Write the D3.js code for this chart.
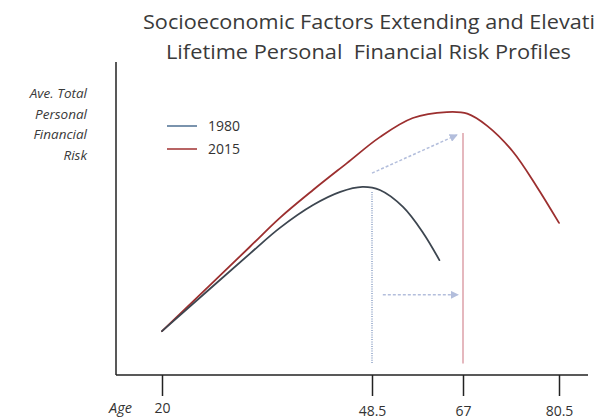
<!DOCTYPE html>
<html>
<head>
<meta charset="utf-8">
<script src="https://cdn.jsdelivr.net/npm/d3@7/dist/d3.min.js"></script>
<style>
  html, body { margin: 0; padding: 0; background: #fff; }
  svg { display: block; }
  text { font-family: "Open Sans", "Liberation Sans", sans-serif; }
</style>
</head>
<body>
<svg id="chart" width="595" height="420"></svg>
<script>
// Age breakpoints shown on the horizontal axis
const ageTicks = [20, 48.5, 67, 80.5];
const ageTickLabels = ["20", "48.5", "67", "80.5"];

// Average total personal financial risk by age (relative units)
const ages1980 = [20, 31.9, 36.0, 40.5, 44.2, 47.2, 50.1, 54.8, 58.9, 62.2];
const risk1980 = [14, 38.7, 47.0, 54.3, 58.5, 60.1, 59.1, 53.7, 45.4, 36.7];
const ages2015 = [20, 31.9, 36.0, 40.5, 45.1, 50.1, 56.8, 63.7, 67.6, 70.4, 74.0, 77.4, 80.5];
const risk2015 = [14, 40.9, 50.2, 59.1, 67.7, 76.0, 82.1, 84.0, 83.5, 79.6, 71.4, 60.1, 48.6];

const seriesNames = ["1980", "2015"];

// Peak-age markers: age, top of marker, bottom of marker
const markerAges = [48.5, 67];
const markerTops = [58.5, 77.3];
const markerBottom = 3.7;

// Shift arrows between the two profiles
const arrowFromAges = [48.5, 50.7];
const arrowFromRisk = [64.5, 25.6];
const arrowToAges = [65.8, 66.0];
const arrowToRisk = [76.7, 25.6];

const titleLines = [
  "Socioeconomic Factors Extending and Elevati",
  "Lifetime Personal  Financial Risk Profiles"
];
const yLabelLines = ["Ave. Total", "Personal", "Financial", "Risk"];

const svg = d3.select("#chart");

const frame = { left: 116, right: 588, top: 62, bottom: 375 };

// Piecewise scale: the age axis is not evenly spaced
const x = d3.scaleLinear()
  .domain(ageTicks)
  .range([162, 372, 463, 559]);

const y = d3.scaleLinear()
  .domain([0, 100])
  .range([frame.bottom, frame.top]);

// Title
const titleG = svg.append("g").attr("fill", "#3a3a3a");
titleG.append("text")
  .attr("x", 143).attr("y", 29)
  .attr("font-size", 19.5)
  .attr("textLength", 452).attr("lengthAdjust", "spacingAndGlyphs")
  .text(titleLines[0]);
titleG.append("text")
  .attr("x", 166).attr("y", 59)
  .attr("font-size", 19.5)
  .attr("textLength", 405).attr("lengthAdjust", "spacingAndGlyphs")
  .style("white-space", "pre")
  .text(titleLines[1]);

// Y axis label (right aligned, italic)
svg.append("g")
  .selectAll("text")
  .data(yLabelLines)
  .join("text")
  .attr("x", 87)
  .attr("y", (d, i) => 98 + i * 20.5)
  .attr("text-anchor", "end")
  .attr("font-size", 13.5)
  .attr("font-style", "italic")
  .attr("fill", "#3a3a3a")
  .text(d => d);

// Frame axes
svg.append("line")
  .attr("x1", frame.left).attr("x2", frame.left)
  .attr("y1", frame.top).attr("y2", frame.bottom)
  .attr("stroke", "#222").attr("stroke-width", 1.5);
svg.append("line")
  .attr("x1", frame.left).attr("x2", frame.right)
  .attr("y1", frame.bottom).attr("y2", frame.bottom)
  .attr("stroke", "#222").attr("stroke-width", 1.5);

// Bottom axis ticks and labels
const xAxis = d3.axisBottom(x)
  .tickValues(ageTicks)
  .tickSize(21)
  .tickFormat((d, i) => ageTickLabels[i]);

const axisG = svg.append("g")
  .attr("transform", `translate(0,${frame.bottom})`)
  .call(xAxis);
axisG.select(".domain").remove();
axisG.selectAll(".tick line").attr("stroke", "#222").attr("stroke-width", 1.5);
axisG.selectAll(".tick text")
  .attr("font-family", "'Open Sans', sans-serif")
  .attr("font-size", 14)
  .attr("fill", "#333")
  .attr("dy", null)
  .attr("y", (d, i) => i === 0 ? 38 : 40.5);

svg.append("text")
  .attr("x", 109).attr("y", 413)
  .attr("font-size", 14.5)
  .attr("font-style", "italic")
  .attr("fill", "#333")
  .text("Age");

// Arrow head
svg.append("defs").append("marker")
  .attr("id", "head")
  .attr("viewBox", "0 0 10 10")
  .attr("refX", 9).attr("refY", 5)
  .attr("markerWidth", 5.5).attr("markerHeight", 5.5)
  .attr("orient", "auto")
  .append("path")
  .attr("d", "M0,0 L10,5 L0,10 Z")
  .attr("fill", "#b3bedc");

// Peak-age markers
svg.append("line")
  .attr("x1", x(markerAges[0])).attr("x2", x(markerAges[0]))
  .attr("y1", y(markerTops[0])).attr("y2", y(markerBottom))
  .attr("stroke", "#8ea2c6").attr("stroke-width", 1.5)
  .attr("stroke-dasharray", "1,1.3");
svg.append("line")
  .attr("x1", x(markerAges[1])).attr("x2", x(markerAges[1]))
  .attr("y1", y(markerTops[1])).attr("y2", y(markerBottom))
  .attr("stroke", "#dca0a8").attr("stroke-width", 1.5);

// Shift arrows
svg.append("g")
  .selectAll("line")
  .data(arrowFromAges)
  .join("line")
  .attr("x1", (d, i) => x(arrowFromAges[i]))
  .attr("y1", (d, i) => y(arrowFromRisk[i]))
  .attr("x2", (d, i) => x(arrowToAges[i]))
  .attr("y2", (d, i) => y(arrowToRisk[i]))
  .attr("stroke", "#b3bedc").attr("stroke-width", 1.5)
  .attr("stroke-dasharray", "3,2")
  .attr("marker-end", "url(#head)");

// Risk profiles
const line = d3.line()
  .x(d => x(d[0]))
  .y(d => y(d[1]))
  .curve(d3.curveCatmullRom.alpha(0.5));

const series = [
  { name: seriesNames[1], pts: d3.zip(ages2015, risk2015), color: "#9c2f2f", key: "#a03030" },
  { name: seriesNames[0], pts: d3.zip(ages1980, risk1980), color: "#3d4650", key: "#4e6f92" }
];

svg.append("g")
  .selectAll("path")
  .data(series)
  .join("path")
  .attr("d", d => line(d.pts))
  .attr("fill", "none")
  .attr("stroke", d => d.color)
  .attr("stroke-width", 1.8)
  .attr("stroke-linecap", "round");

// Legend
const legend = svg.append("g")
  .selectAll("g")
  .data([series[1], series[0]])
  .join("g")
  .attr("transform", (d, i) => `translate(167,${126 + i * 23})`);
legend.append("line")
  .attr("x1", 0).attr("x2", 30)
  .attr("stroke", d => d.key).attr("stroke-width", 1.5);
legend.append("text")
  .attr("x", 41).attr("y", 5)
  .attr("font-size", 14)
  .attr("fill", "#333")
  .text(d => d.name);
</script>
</body>
</html>
